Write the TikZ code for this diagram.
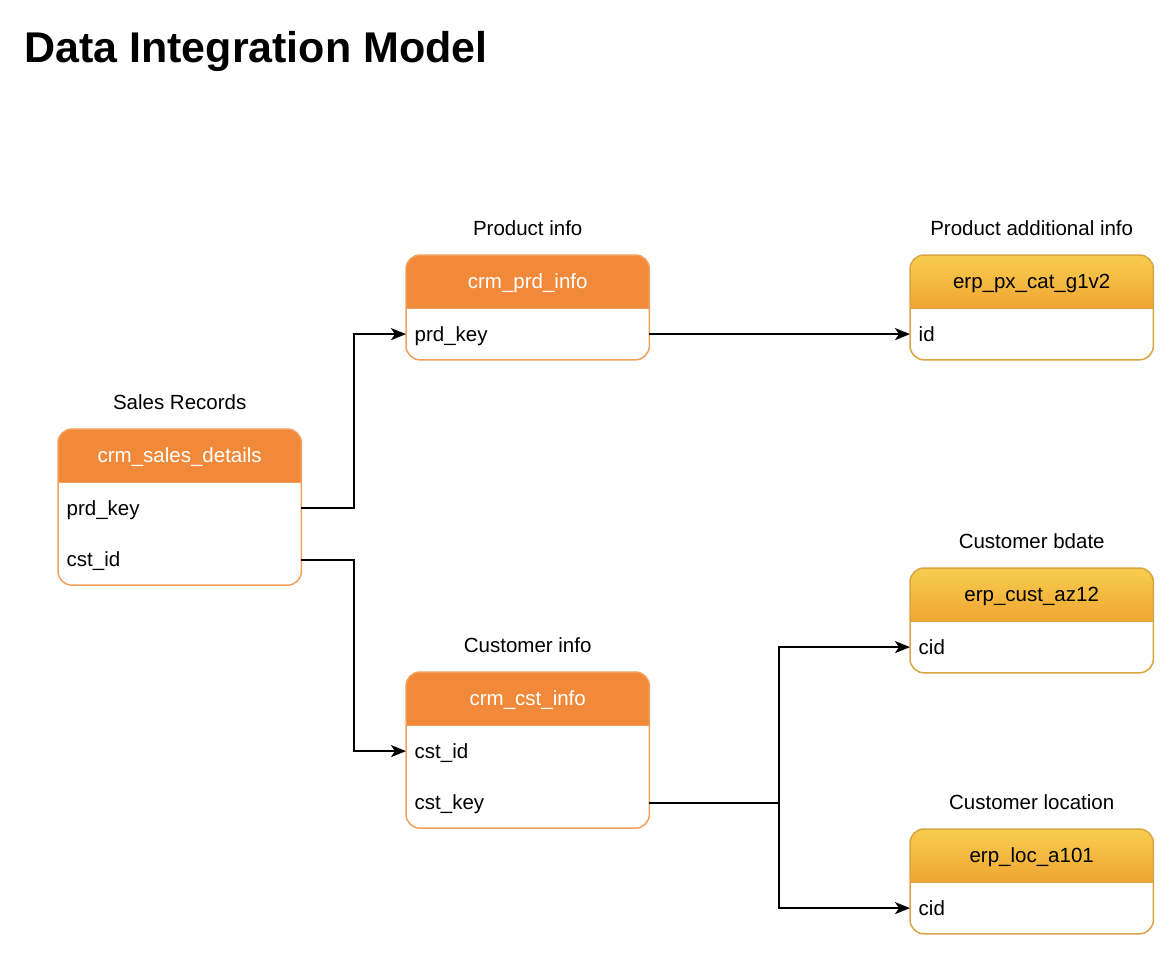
\documentclass[tikz,border=0pt]{standalone}
\usepackage{fontspec}
\setmainfont{Liberation Sans}
\usetikzlibrary{positioning,arrows.meta,backgrounds}
\definecolor{crmfill}{HTML}{F08A3A}
\definecolor{crmline}{HTML}{F2A05C}
\definecolor{erptop}{HTML}{F7CD4F}
\definecolor{erpbot}{HTML}{F0A533}
\definecolor{erpline}{HTML}{D9A443}

\tikzset{
  tbltext/.style={font=\fontsize{20.5}{24}\selectfont, text height=15pt, text depth=1pt},
  tblhead/.style={tbltext, minimum width=243pt, minimum height=53pt, inner sep=0pt, align=center},
  crmhead/.style={tblhead, text=white},
  erphead/.style={tblhead, text=black},
  tblrow/.style={tbltext, text width=226pt, inner xsep=8.5pt, inner ysep=0pt, minimum height=51pt, align=left},
  caption/.style={tbltext, inner sep=0pt},
  crmfillc/.style={fill=crmfill},
  crmedge/.style={draw=crmline},
  erpfillc/.style={top color=erptop, bottom color=erpbot},
  erpedge/.style={draw=erpline},
  link/.style={line width=2pt, -{Stealth[length=15pt,width=12pt,inset=4pt]}},
  plain link/.style={line width=2pt}
}

% frame of a table: header node, last row node, kind (crm or erp)
\newcommand{\tableframe}[3]{%
  \begin{pgfonlayer}{background}
    \fill[white, rounded corners=14pt] (#1.north west) rectangle (#2.south east);
    \begin{scope}
      \clip[rounded corners=14pt] (#1.north west) rectangle (#2.south east);
      \path[#3fillc] (#1.north west) rectangle (#1.south east);
    \end{scope}
    \draw[#3edge, line width=1.5pt] (#1.south west) -- (#1.south east);
    \draw[#3edge, line width=1.5pt, rounded corners=14pt] (#1.north west) rectangle (#2.south east);
  \end{pgfonlayer}}

\begin{document}
\begin{tikzpicture}[x=1pt,y=-1pt]
  \useasboundingbox (0,0) rectangle (1176,970);
  \node[anchor=west, inner sep=0pt, font=\fontsize{43}{48}\selectfont\bfseries] (title) at (24,51) {Data Integration Model};

  % sales records
  \node[crmhead, anchor=north west] (sales) at (58,429) {crm\_sales\_details};
  \node[tblrow, below=0pt of sales] (sales-prd) {prd\_key};
  \node[tblrow, below=0pt of sales-prd] (sales-cst) {cst\_id};
  \node[caption, above=18pt of sales] (sales-cap) {Sales Records};
  \tableframe{sales}{sales-cst}{crm}

  % product info
  \node[crmhead, anchor=north west] (prd) at (406,255) {crm\_prd\_info};
  \node[tblrow, below=0pt of prd] (prd-key) {prd\_key};
  \node[caption, above=18pt of prd] (prd-cap) {Product info};
  \tableframe{prd}{prd-key}{crm}

  % customer info
  \node[crmhead, anchor=north west] (cst) at (406,672) {crm\_cst\_info};
  \node[tblrow, below=0pt of cst] (cst-id) {cst\_id};
  \node[tblrow, below=0pt of cst-id] (cst-key) {cst\_key};
  \node[caption, above=18pt of cst] (cst-cap) {Customer info};
  \tableframe{cst}{cst-key}{crm}

  % erp tables
  \node[erphead, anchor=north west] (cat) at (910,255) {erp\_px\_cat\_g1v2};
  \node[tblrow, below=0pt of cat] (cat-id) {id};
  \node[caption, above=18pt of cat] (cat-cap) {Product additional info};
  \tableframe{cat}{cat-id}{erp}

  \node[erphead, anchor=north west] (cust) at (910,568) {erp\_cust\_az12};
  \node[tblrow, below=0pt of cust] (cust-cid) {cid};
  \node[caption, above=18pt of cust] (cust-cap) {Customer bdate};
  \tableframe{cust}{cust-cid}{erp}

  \node[erphead, anchor=north west] (loc) at (910,829) {erp\_loc\_a101};
  \node[tblrow, below=0pt of loc] (loc-cid) {cid};
  \node[caption, above=18pt of loc] (loc-cap) {Customer location};
  \tableframe{loc}{loc-cid}{erp}

  % links
  \draw[link] (sales-prd.east) -- ++(53,0) |- (prd-key.west);
  \draw[link] (sales-cst.east) -- ++(53,0) |- (cst-id.west);
  \draw[link] (prd-key.east) -- (cat-id.west);
  \coordinate (split) at ([xshift=130pt]cst-key.east);
  \draw[plain link] (cst-key.east) -- (split);
  \draw[link] (split) |- (cust-cid.west);
  \draw[link] (split) |- (loc-cid.west);
\end{tikzpicture}
\end{document}
